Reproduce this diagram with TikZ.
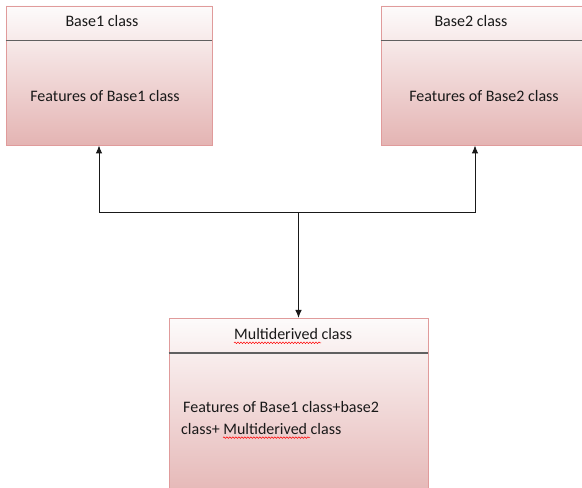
\documentclass[tikz,border=0pt]{standalone}
\usepackage{fontspec}
\setmainfont{Carlito}
\usepackage{xcolor}
\usetikzlibrary{positioning}
\usetikzlibrary{arrows.meta}
\usetikzlibrary{math}
\usetikzlibrary{calc}
\usetikzlibrary{shadows}
\usetikzlibrary{decorations.pathmorphing}

\definecolor{boxtop}{RGB}{253,251,251}
\definecolor{boxbottom}{RGB}{228,180,179}
\definecolor{boxline}{RGB}{224,155,155}
\definecolor{divline}{RGB}{96,96,96}

\tikzset{
  classbox/.style={draw=boxline, line width=0.8pt, top color=boxtop, bottom color=boxbottom,
    drop shadow={shadow xshift=1pt, shadow yshift=-1.5pt, opacity=0.25}, inner sep=0pt},
  divider/.style={draw=divline, line width=1.4pt},
  link/.style={draw=black!90, line width=1pt, -{Latex[length=8pt,width=6.5pt]}},
  classtext/.style={font=\fontsize{16}{22}\selectfont, inner sep=0pt, text=black!90},
  spellwave/.style={draw=red, line width=0.5pt,
    decorate, decoration={snake, segment length=3pt, amplitude=0.8pt}},
}

\begin{document}
\begin{tikzpicture}[x=1pt,y=1pt]

  \tikzmath{
    \boxh   = 139;  % height of the two base boxes
    \headh  = 35;   % height of the name part
    \jy     = 275;  % height of the joining line
    \wavew  = 87;   % length of the wave under Multiderived
  }

  \useasboundingbox (0,0) rectangle (582,488);

  % the three class boxes
  \node[classbox, minimum width=206, minimum height=\boxh] (base1) at (109,412.5) {};
  \node[classbox, minimum width=203, minimum height=\boxh] (base2) at (482.5,412.5) {};
  \node[classbox, minimum width=259, minimum height=185, anchor=north] (derived) at (298.5,170) {};

  % name parts
  \draw[divider] ($(base1.north west)+(0,-\headh)$) -- ($(base1.north east)+(0,-\headh)$);
  \draw[divider] ($(base2.north west)+(0,-\headh)$) -- ($(base2.north east)+(0,-\headh)$);
  \draw[divider] ($(derived.north west)+(0,-\headh)$) -- ($(derived.north east)+(0,-\headh)$);

  \node[classtext] (base1 name) at (102,467) {Base1 class};
  \node[classtext] (base2 name) at (471,467) {Base2 class};
  \node[classtext, anchor=west] (derived name) at (234,154) {Multiderived class};

  % features
  \node[classtext] (base1 feat) at (105,392) {Features of Base1 class};
  \node[classtext] (base2 feat) at (484,392) {Features of Base2 class};
  \node[classtext, align=left, anchor=north west] (derived feat) at (181,87)
    {\hspace{2pt}Features of Base1 class+base2\\class+ Multiderived class};

  % spelling marks
  \draw[spellwave] ($(derived name.south west)+(0,-3)$) -- ++(\wavew,0);
  \draw[spellwave] ($(derived feat.south west)+(42,-3)$) -- ++(\wavew,0);

  % connectors
  \coordinate (mid) at (298.5,\jy);
  \draw[link] (mid) -| ([xshift=-10pt]base1.south);
  \draw[link] (mid) -| ([xshift=-7.5pt]base2.south);
  \draw[link] (mid) -- (derived.north);

\end{tikzpicture}
\end{document}
